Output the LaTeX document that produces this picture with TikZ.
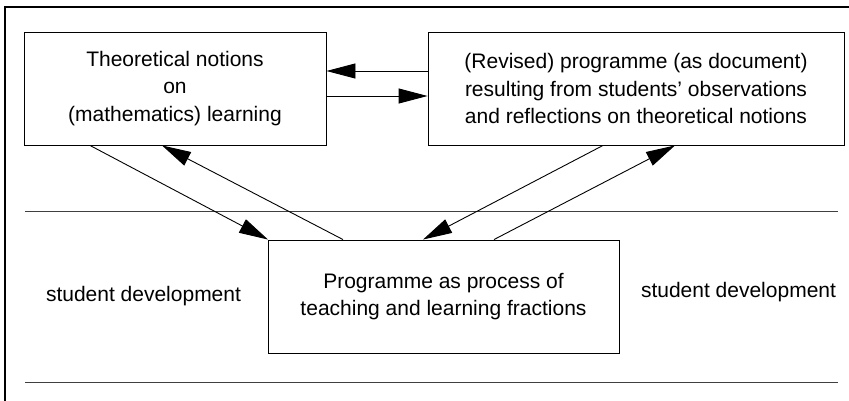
\documentclass[tikz,border=0pt]{standalone}
\usepackage{fontspec}
\setmainfont{Liberation Sans}
\usetikzlibrary{arrows.meta}
\begin{document}
\begin{tikzpicture}[x=1pt,y=-1pt,
  box/.style={draw, line width=0.9pt, inner sep=0pt, align=center,
    font=\fontsize{21}{27.5}\selectfont},
  lbl/.style={inner sep=0pt, font=\fontsize{21}{27.5}\selectfont},
  conn/.style={line width=0.9pt, -{Triangle[length=29pt,width=15pt]}},
  sep/.style={line width=1pt, black!75}]
\useasboundingbox (0,0) rectangle (849,401);
% frame
\coordinate (ftop) at (849,7);
\coordinate (fcorner) at (5,7);
\coordinate (fbot) at (5,401);
\draw[line width=1.2pt] (ftop) -- (fcorner) -- (fbot);
% separators
\coordinate (s1a) at (25,211);
\coordinate (s1b) at (838,211);
\coordinate (s2a) at (25,382);
\coordinate (s2b) at (838,382);
\draw[sep] (s1a) -- (s1b);
\draw[sep] (s2a) -- (s2b);
% boxes
\node[box, minimum width=302pt, minimum height=113pt] (L) at (175,88.5)
  {Theoretical notions\\on\\(mathematics) learning};
\node[box, minimum width=416pt, minimum height=113pt] (R) at (636,88.5)
  {(Revised) programme (as document)\\resulting from students' observations\\and reflections on theoretical notions};
\node[box, minimum width=351pt, minimum height=113pt] (B) at (443.5,296.5)
  {Programme as process of\\teaching and learning fractions};
\node[lbl] (sdl) at (143.5,296) {student development};
\node[lbl] (sdr) at (738.5,292) {student development};
% connectors
\draw[conn] ([yshift=17.5pt]R.west) -- ([yshift=17.5pt]L.east);
\draw[conn] ([yshift=-7.5pt]L.east) -- ([yshift=-7.5pt]R.west);
\draw[conn] ([xshift=-85pt]L.south) -- ([xshift=-175.5pt]B.north);
\draw[conn] ([xshift=-100.5pt]B.north) -- ([xshift=-13pt]L.south);
\draw[conn] ([xshift=-33pt]R.south) -- ([xshift=-20.5pt]B.north);
\draw[conn] ([xshift=50.5pt]B.north) -- ([xshift=39pt]R.south);
\end{tikzpicture}
\end{document}
